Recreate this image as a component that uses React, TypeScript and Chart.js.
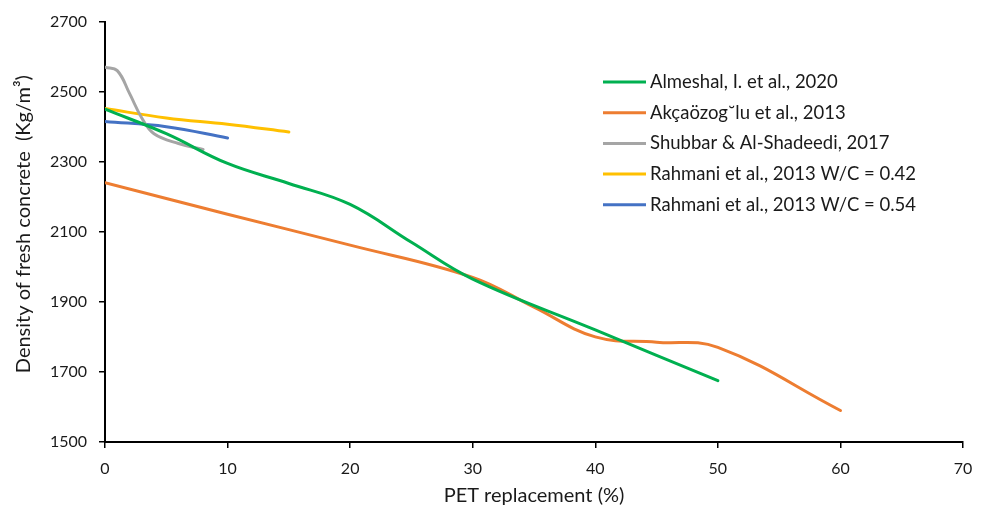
import React, { useEffect, useRef } from "react";
import { Chart, registerables } from "chart.js";

Chart.register(...registerables);

// Almeshal, I. et al., 2020
const almeshalX = [0, 5, 10, 15, 20, 25, 30, 40, 50];
const almeshalY = [2450, 2380, 2295, 2238, 2178, 2070, 1965, 1820, 1675];
// Akçaözog˘lu et al., 2013
const akcaX = [0, 10, 20, 30, 35, 40, 45, 50, 60];
const akcaY = [2240, 2150, 2062, 1970, 1885, 1800, 1785, 1770, 1590];
// Shubbar & Al-Shadeedi, 2017
const shubbarX = [0, 1, 2, 3, 4, 6, 8];
const shubbarY = [2570, 2560, 2495, 2425, 2380, 2352, 2335];
// Rahmani et al., 2013 W/C = 0.42
const rahmani42X = [0, 5, 10, 15];
const rahmani42Y = [2452, 2425, 2407, 2385];
// Rahmani et al., 2013 W/C = 0.54
const rahmani54X = [0, 5, 10];
const rahmani54Y = [2415, 2400, 2368];

const seriesLabels = [
  "Almeshal, I. et al., 2020",
  "Akçaözog˘lu et al., 2013",
  "Shubbar & Al-Shadeedi, 2017",
  "Rahmani et al., 2013 W/C = 0.42",
  "Rahmani et al., 2013 W/C = 0.54",
];
const seriesColors = ["#00B050", "#ED7D31", "#A5A5A5", "#FFC000", "#4472C4"];

const xTitle = "PET replacement (%)";
const yTitle = "   Density of fresh concrete  (Kg/m³)";

const FONT = "Lato, 'Open Sans', sans-serif";
const TEXT = "#1a1a1a";

function pts(xs: number[], ys: number[]) {
  return xs.map((x, i) => ({ x, y: ys[i] }));
}

const legendPlugin = {
  id: "insideLegend",
  afterDraw(chart: any) {
    const ctx = chart.ctx;
    ctx.save();
    const x0 = 603;
    const x1 = 646;
    const tx = 650;
    const y0 = 82;
    const step = 30.7;
    chart.data.datasets.forEach((ds: any, i: number) => {
      const y = y0 + i * step;
      ctx.beginPath();
      ctx.strokeStyle = ds.borderColor;
      ctx.lineWidth = 3;
      ctx.lineCap = "butt";
      ctx.moveTo(x0, y);
      ctx.lineTo(x1, y);
      ctx.stroke();
      ctx.fillStyle = TEXT;
      ctx.font = `18.5px ${FONT}`;
      ctx.textBaseline = "middle";
      ctx.textAlign = "left";
      ctx.fillText(ds.label, tx, y);
    });
    ctx.restore();
  },
};

export default function App() {
  const ref = useRef<HTMLCanvasElement | null>(null);

  useEffect(() => {
    document.body.style.margin = "0";
    const canvas = ref.current;
    if (!canvas) return;
    const allData = [
      pts(almeshalX, almeshalY),
      pts(akcaX, akcaY),
      pts(shubbarX, shubbarY),
      pts(rahmani42X, rahmani42Y),
      pts(rahmani54X, rahmani54Y),
    ];
    const chart = new Chart(canvas, {
      type: "line",
      data: {
        datasets: allData.map((d, i) => ({
          label: seriesLabels[i],
          data: d,
          borderColor: seriesColors[i],
          backgroundColor: seriesColors[i],
          borderWidth: 3,
          pointRadius: 0,
          tension: 0.4,
          borderCapStyle: "round" as const,
          fill: false,
        })),
      },
      options: {
        responsive: false,
        animation: false,
        layout: { padding: { top: 21, right: 23, left: 0, bottom: 0 } },
        plugins: {
          legend: { display: false },
          tooltip: { enabled: false },
        },
        scales: {
          x: {
            type: "linear",
            min: 0,
            max: 70,
            afterFit: (s: any) => {
              s.height = 66;
            },
            ticks: {
              stepSize: 10,
              color: TEXT,
              font: { family: FONT, size: 16 },
              padding: 11,
              callback: (v: any) => String(v),
            },
            grid: {
              display: true,
              drawOnChartArea: false,
              drawTicks: true,
              tickLength: 6,
              color: "#000",
              lineWidth: 1.5,
            },
            border: { display: true, color: "#000", width: 2 },
            title: {
              display: true,
              text: xTitle,
              color: TEXT,
              font: { family: FONT, size: 20 },
              padding: { top: 0, bottom: 0 },
            },
          },
          y: {
            type: "linear",
            min: 1500,
            max: 2700,
            afterFit: (s: any) => {
              s.width = 105;
            },
            ticks: {
              stepSize: 200,
              color: TEXT,
              font: { family: FONT, size: 16 },
              padding: 12,
              callback: (v: any) => String(v),
            },
            grid: {
              display: true,
              drawOnChartArea: false,
              drawTicks: true,
              tickLength: 6,
              color: "#000",
              lineWidth: 1.5,
            },
            border: { display: true, color: "#000", width: 2 },
            title: {
              display: true,
              text: yTitle,
              color: TEXT,
              font: { family: FONT, size: 20 },
              padding: { top: 12, bottom: 0 },
            },
          },
        },
      },
      plugins: [legendPlugin],
    });
    return () => chart.destroy();
  }, []);

  return (
    <div style={{ width: 986, height: 508, background: "#fff" }}>
      <canvas ref={ref} width={986} height={508} />
    </div>
  );
}
